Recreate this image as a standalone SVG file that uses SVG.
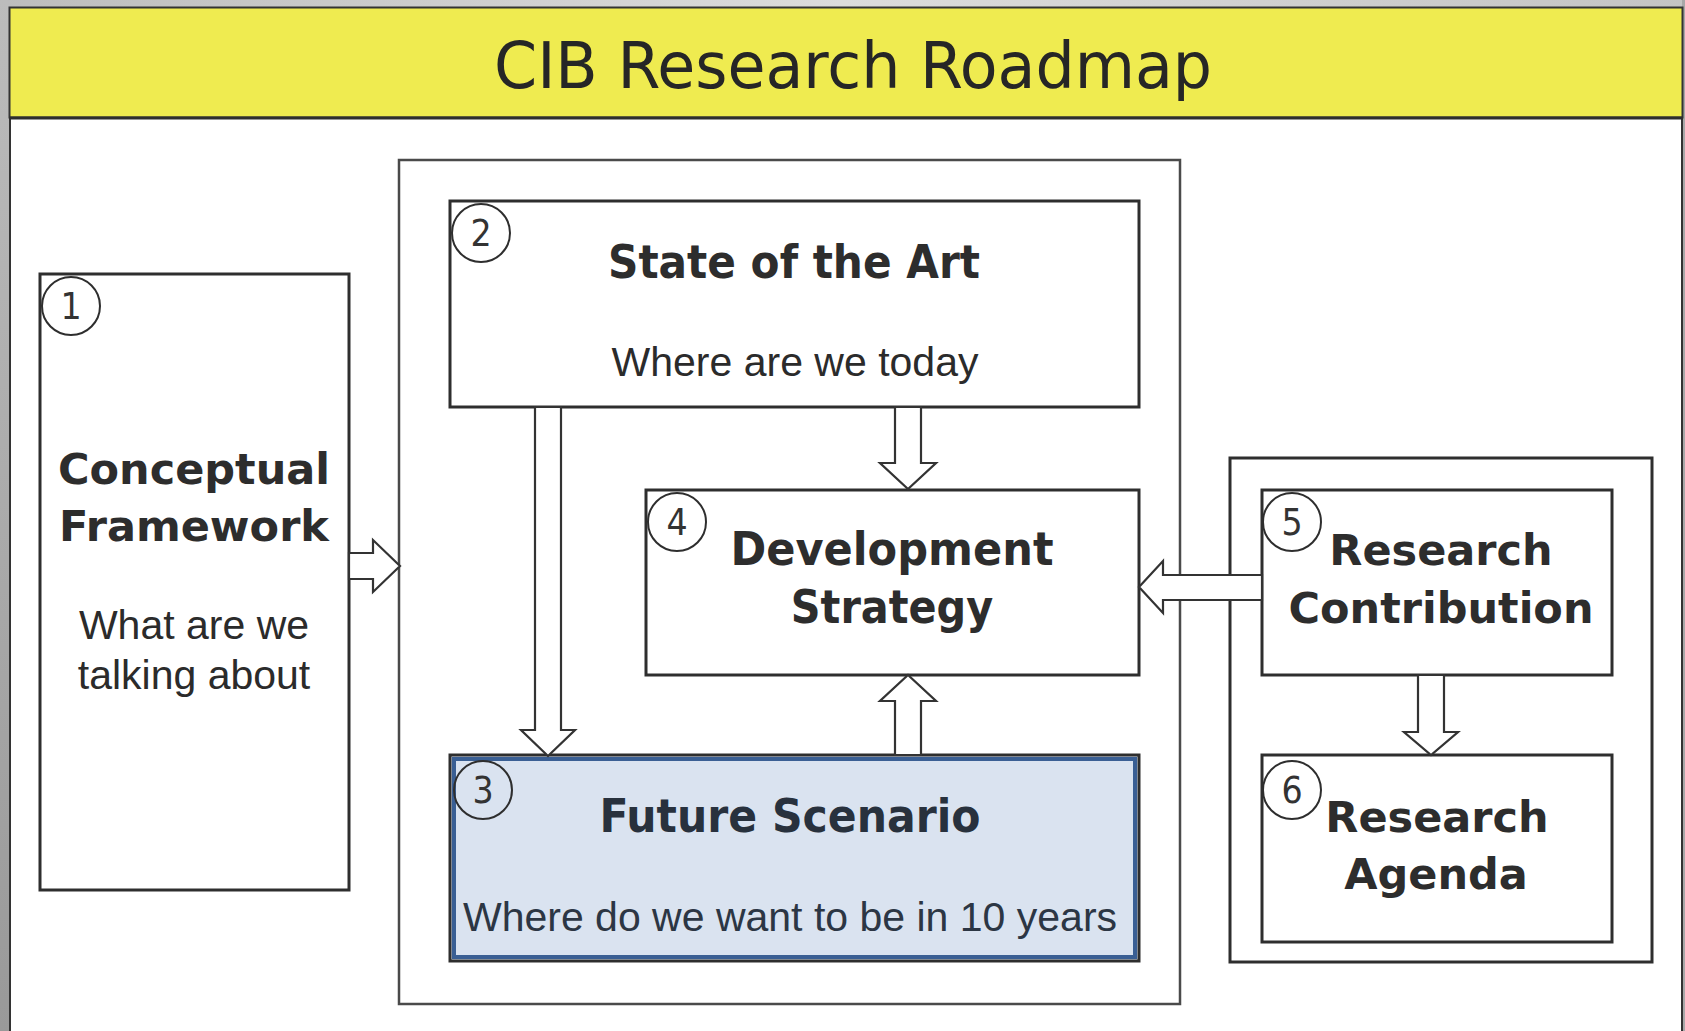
<svg xmlns="http://www.w3.org/2000/svg" width="1685" height="1031" viewBox="0 0 1685 1031">
<defs>
<linearGradient id="topg" x1="0" y1="0" x2="1" y2="0">
<stop offset="0" stop-color="#bdbdbd"/><stop offset="0.5" stop-color="#dcdcdc"/><stop offset="1" stop-color="#c4c4c4"/>
</linearGradient>
<linearGradient id="leftg" x1="0" y1="0" x2="0" y2="1">
<stop offset="0" stop-color="#bcbcbc"/><stop offset="1" stop-color="#999999"/>
</linearGradient>
<style>
.box{fill:#ffffff;stroke:#2e2e2e;stroke-width:3}
.cont{fill:none;stroke:#4a4a4a;stroke-width:2.5}
.num{fill:none;stroke:#2e2e2e;stroke-width:2}
.numt{font-family:"DejaVu Sans Condensed","DejaVu Sans",sans-serif;font-stretch:condensed;font-size:37px;fill:#333333;text-anchor:middle}
.hc{font-family:"DejaVu Sans Condensed","DejaVu Sans",sans-serif;font-stretch:condensed;font-weight:bold;font-size:46px;fill:#2d2d2d;text-anchor:middle}
.hw{font-family:"DejaVu Sans",sans-serif;font-weight:bold;font-size:43px;fill:#2d2d2d;text-anchor:middle}
.sub{font-family:"Liberation Sans",Arial,sans-serif;font-size:41px;fill:#2b2b2b;text-anchor:middle}
.arrow{fill:#ffffff;stroke:#333333;stroke-width:2.2;stroke-linejoin:miter}
</style>
</defs>
<rect x="0" y="0" width="1685" height="1031" fill="url(#topg)"/>
<rect x="0" y="0" width="10" height="1031" fill="url(#leftg)"/>
<rect x="1682" y="0" width="3" height="1031" fill="#a8a8a8"/>
<rect x="10" y="118" width="1672" height="920" fill="#ffffff" stroke="#333333" stroke-width="2"/>
<g id="header">
<rect x="9.5" y="7.5" width="1673" height="110" fill="#efeb50" stroke="#333333" stroke-width="2"/>
<line x1="9" y1="118" x2="1683" y2="118" stroke="#2e2e2e" stroke-width="3"/>
<text x="853" y="88" font-family="'DejaVu Sans Condensed','DejaVu Sans',sans-serif" font-stretch="condensed" font-size="64" fill="#262626" text-anchor="middle" textLength="718" lengthAdjust="spacingAndGlyphs">CIB Research Roadmap</text>
</g>
<g id="containers">
<rect class="cont" x="399" y="160" width="781" height="844"/>
<rect class="box" x="1230" y="458" width="422" height="504" style="fill:none"/>
</g>
<g id="node1">
<rect class="box" x="40" y="274" width="309" height="616"/>
<circle class="num" cx="71" cy="306" r="29"/>
<text class="numt" x="71" y="319">1</text>
<text class="hw" x="194" y="484">Conceptual</text>
<text class="hw" x="194" y="541">Framework</text>
<text class="sub" x="194" y="639">What are we</text>
<text class="sub" x="194" y="689">talking about</text>
</g>
<g id="node2">
<rect class="box" x="450" y="201" width="689" height="206"/>
<circle class="num" cx="481" cy="233" r="29"/>
<text class="numt" x="481" y="246">2</text>
<text class="hc" x="794" y="278" textLength="372" lengthAdjust="spacingAndGlyphs">State of the Art</text>
<text class="sub" x="795" y="376">Where are we today</text>
</g>
<g id="node4">
<rect class="box" x="646" y="490" width="493" height="185"/>
<circle class="num" cx="677" cy="522" r="29"/>
<text class="numt" x="677" y="535">4</text>
<text class="hc" x="892" y="565" textLength="323" lengthAdjust="spacingAndGlyphs">Development</text>
<text class="hc" x="892" y="623">Strategy</text>
</g>
<g id="node3">
<rect x="450" y="755" width="689" height="206" fill="#dae3f0" stroke="#2e2e2e" stroke-width="3"/>
<rect x="454" y="759" width="681" height="198" fill="none" stroke="#3a5f94" stroke-width="4"/>
<circle class="num" cx="483" cy="790" r="29"/>
<text class="numt" x="483" y="803">3</text>
<text class="hc" x="790" y="832" textLength="381" lengthAdjust="spacingAndGlyphs" style="fill:#28313d">Future Scenario</text>
<text class="sub" x="790" y="931" style="fill:#2c3644">Where do we want to be in 10 years</text>
</g>
<g id="node5">
<rect class="box" x="1262" y="490" width="350" height="185"/>
<circle class="num" cx="1292" cy="522" r="29"/>
<text class="numt" x="1292" y="535">5</text>
<text class="hw" x="1441" y="565">Research</text>
<text class="hw" x="1441" y="623">Contribution</text>
</g>
<g id="node6">
<rect class="box" x="1262" y="755" width="350" height="187"/>
<circle class="num" cx="1292" cy="790" r="29"/>
<text class="numt" x="1292" y="803">6</text>
<text class="hw" x="1437" y="832">Research</text>
<text class="hw" x="1436" y="889">Agenda</text>
</g>
<g id="connectors">
<polygon class="arrow" points="349,553 373,553 373,540 400,566 373,592 373,579 349,579"/>
<polygon class="arrow" points="535,407 561,407 561,730 575,730 548,756 521,730 535,730"/>
<polygon class="arrow" points="895,407 921,407 921,463 936,463 908,489 880,463 895,463"/>
<polygon class="arrow" points="895,755 921,755 921,701 936,701 908,675 880,701 895,701"/>
<polygon class="arrow" points="1262,575 1163,575 1163,561 1139,587 1163,613 1163,600 1262,600"/>
<polygon class="arrow" points="1418,675 1444,675 1444,732 1458,732 1431,755 1404,732 1418,732"/>
</g>
</svg>
